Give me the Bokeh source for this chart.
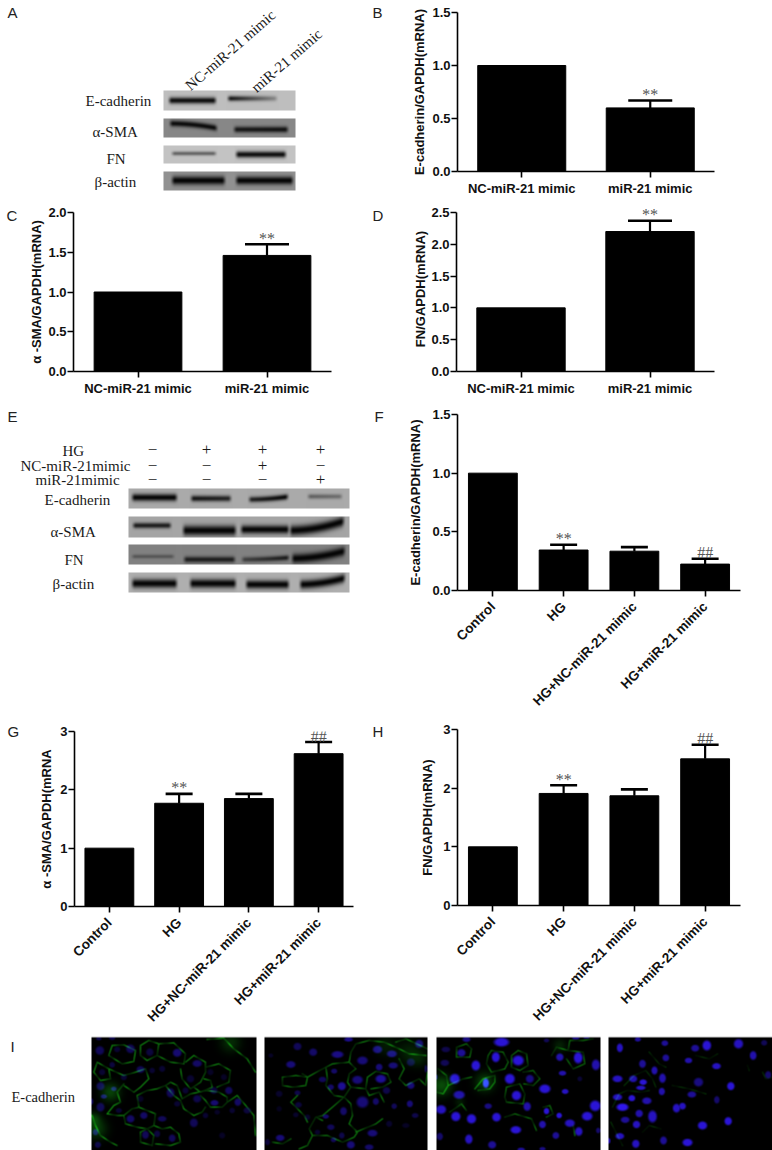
import numpy as np
from bokeh.core.properties import value
from bokeh.embed import file_html
from bokeh.layouts import column, row
from bokeh.models import (ColumnDataSource, FactorRange, FixedTicker, LabelSet, NumeralTickFormatter,
                          Range1d, TeeHead, Whisker)
from bokeh.plotting import figure
from bokeh.resources import INLINE

SERIF = "Liberation Serif"
SANS = "Liberation Sans"

# ---------- chart data ----------
CATS_2 = ["NC-miR-21 mimic", "miR-21 mimic"]
CATS_4 = ["Control", "HG", "HG+NC-miR-21 mimic", "HG+miR-21 mimic"]

B_VALUES = [1.0, 0.60]
B_TOPS = [None, 0.67]
B_MARKS = ["", "**"]
B_TICKS = [0.0, 0.5, 1.0, 1.5]

C_VALUES = [1.0, 1.46]
C_TOPS = [None, 1.60]
C_MARKS = ["", "**"]
C_TICKS = [0.0, 0.5, 1.0, 1.5, 2.0]

D_VALUES = [1.0, 2.20]
D_TOPS = [None, 2.37]
D_MARKS = ["", "**"]
D_TICKS = [0.0, 0.5, 1.0, 1.5, 2.0, 2.5]

F_VALUES = [1.0, 0.345, 0.335, 0.225]
F_TOPS = [None, 0.39, 0.37, 0.27]
F_MARKS = ["", "**", "", "##"]
F_TICKS = [0.0, 0.5, 1.0, 1.5]

G_VALUES = [1.0, 1.77, 1.85, 2.62]
G_TOPS = [None, 1.93, 1.93, 2.82]
G_MARKS = ["", "**", "", "##"]
G_TICKS = [0, 1, 2, 3]

H_VALUES = [1.0, 1.91, 1.87, 2.50]
H_TOPS = [None, 2.05, 1.98, 2.74]
H_MARKS = ["", "**", "", "##"]
H_TICKS = [0, 1, 2, 3]

# ---------- blot strips: top, bottom, background grey, bands (x0, x1, y0, y1, thickness, dark0, dark1) ----------
BLOT_A = [
    (90, 110, 190, [(167, 217, 100, 100, 3.2, .95, .95), (226, 278, 98, 98, 2.6, .95, .25)]),
    (118, 137, 135, [(168, 218, 123, 128, 3.0, .95, .95), (232, 289, 129, 129, 3.0, .85, .9)]),
    (145, 163, 195, [(170, 217, 153, 153, 2.0, .5, .5), (234, 287, 154, 154, 3.2, .95, .95)]),
    (171, 190, 145, [(170, 226, 180, 180, 4.2, 1, 1), (234, 294, 180, 180, 4.0, 1, 1)]),
]
BLOT_E = [
    (488, 508, 170, [(130, 178, 497, 497, 3.6, 1, 1), (189, 232, 498, 498, 3.0, .9, .8), (247, 289, 499, 496, 2.8, .8, 1), (306, 343, 496, 496, 2.4, .45, .35)]),
    (516, 537, 165, [(131, 172, 525, 525, 2.8, .85, .85), (181, 237, 530, 530, 5.0, 1, 1), (239, 290, 529, 529, 4.2, 1, 1), (288, 345, 530, 520, 5.0, 1, 1)]),
    (544, 564, 130, [(130, 175, 556, 556, 2.0, .35, .35), (182, 236, 559, 559, 3.0, .8, .8), (240, 290, 559, 557, 2.6, .5, .85), (290, 346, 558, 550, 4.6, 1, 1)]),
    (572, 592, 175, [(130, 178, 583, 583, 4.4, 1, 1), (188, 237, 583, 583, 4.4, 1, 1), (244, 290, 584, 584, 4.2, 1, 1), (298, 346, 584, 577, 4.4, 1, 1)]),
]

NUC_1 = [(28,45,14,14,.7),(120,40,14,14,.7),(178,50,12,12,.5),(260,52,14,13,.9),(320,84,15,11,.8),(150,102,13,11,.7),(30,152,13,13,.7),(70,160,9,7,.9),(40,183,10,7,.9),(240,172,13,15,.7),(30,215,13,14,.7),(120,250,13,12,.8),(160,240,12,11,.8),(215,250,14,9,.7),(310,262,13,14,.7),(165,298,11,13,.7),(245,308,11,12,.7),(200,295,10,11,.5),(372,202,13,9,.9),(442,200,11,12,.8),(415,165,12,12,.7),(320,190,13,12,.6),(370,165,12,11,.5),(470,225,12,10,.5),(300,130,12,12,.4),(215,100,10,10,.4),(65,88,9,9,.5),(35,110,10,10,.4),(80,42,10,9,.4),(100,125,10,10,.4),(185,105,9,9,.4),(360,110,10,10,.3),(400,125,10,10,.3),(425,225,9,9,.4),(345,240,9,9,.4),(380,230,9,8,.3),(260,205,10,9,.4),(285,165,10,10,.4),(150,190,10,10,.3),(15,290,9,10,.8),(22,328,10,10,.6),(3,198,6,10,.8),(85,225,10,8,.4),(395,300,10,10,.3),(65,8,10,6,.6),(25,10,9,5,.6)]
MEM_1 = [[(150,30),(175,15),(205,25),(200,60),(170,75),(150,60),(150,30)],[(205,25),(250,22),(285,55),(280,85),(240,80),(200,60)],[(285,80),(310,60),(345,80),(345,110),(330,140),(300,160),(275,130),(270,100)],[(345,95),(385,85),(420,105),(415,140),(380,155)],[(340,130),(360,135),(365,155),(330,170),(310,155)],[(300,175),(325,170),(350,165),(385,170),(410,185),(410,200),(395,215),(360,215),(345,195),(330,180)],[(270,195),(250,180),(225,150),(240,140),(260,150),(275,190),(300,175)],[(270,195),(280,220),(310,240),(335,230),(345,215)],[(140,180),(170,165),(200,160),(225,150)],[(140,180),(145,215),(170,225),(195,235),(190,270),(170,280),(140,275),(105,265),(100,240),(125,220),(145,215)],[(170,280),(190,300),(185,330),(150,320),(150,290),(170,280)],[(190,270),(215,280),(240,275),(265,295),(270,320),(240,330),(195,325)],[(100,145),(80,170),(90,200),(70,210),(50,235),(80,240),(100,240)],[(55,100),(100,120),(135,110),(165,100),(175,130),(150,155),(130,170),(100,150)],[(5,240),(15,270),(30,300),(60,320),(80,330)],[(410,200),(440,180),(470,215),(490,240),(495,300)],[(350,12),(400,8),(430,40),(470,70),(495,110)],[(55,60),(65,30),(100,28),(135,45),(130,78),(95,85),(55,60)],[(20,80),(55,100),(60,130),(30,135),(10,110),(20,80)]]
HAZE_1 = [(60,170,28,.3),(20,280,30,.25),(10,250,20,.25),(420,20,30,.2)]

NUC_2 = [(105,33,13,12,.6),(152,50,13,12,.7),(225,57,19,11,.9),(258,12,14,7,.9),(345,42,15,12,.9),(388,55,16,11,.9),(470,25,13,13,.8),(300,75,17,13,.8),(445,80,13,12,.5),(85,87,15,11,.8),(215,107,10,8,.7),(350,95,11,11,.8),(392,90,15,10,.8),(180,132,12,9,.6),(285,133,17,13,.8),(355,130,17,13,1),(205,155,10,9,.7),(238,152,13,13,1),(445,150,12,11,.8),(50,175,11,10,.3),(105,172,10,8,.5),(372,165,12,11,.5),(300,200,19,18,.8),(340,198,10,11,.7),(108,208,11,9,.4),(395,212,9,9,.6),(442,205,10,11,.8),(243,227,11,13,.7),(190,243,10,7,.7),(100,238,9,8,.3),(135,245,9,9,.3),(458,240,11,8,.5),(205,275,12,9,.6),(380,265,10,10,.3),(330,293,16,11,.8),(238,300,9,10,.5),(213,313,9,8,.6),(53,307,14,10,.8),(265,328,13,12,.8),(320,335,14,9,.7),(430,270,12,8,.25),(165,290,9,8,.3),(25,60,8,7,.25),(50,220,9,9,.2),(15,320,8,10,.4),(490,100,5,12,.5)]
MEM_2 = [[(265,50),(280,25),(320,15),(365,20),(410,40),(440,55),(490,60)],[(265,50),(260,80),(280,100),(260,115),(255,140),(265,155),(310,160),(315,125),(340,108),(375,115),(385,140),(360,155),(325,160)],[(120,115),(135,125),(190,95),(210,85),(260,80)],[(190,95),(195,130),(190,150),(215,180),(245,185),(265,155)],[(245,185),(210,215),(180,240),(160,245),(180,255)],[(60,125),(100,120),(135,125),(130,150),(90,155),(60,150),(60,125)],[(245,185),(265,205),(270,240),(260,265),(285,290),(275,305),(240,320),(195,300),(150,300),(140,280),(160,245)],[(310,160),(320,180),(350,170),(365,200)],[(150,300),(135,330),(110,340)],[(30,320),(60,325),(85,310)],[(410,70),(425,100),(410,130),(430,150),(470,130),(490,150),(495,110)],[(105,180),(85,200),(110,225),(125,240),(135,260)],[(280,290),(340,265),(360,250)],[(400,20),(430,10),(495,40)]]
HAZE_2 = [(440,50,35,.15),(470,70,25,.12),(370,30,30,.12)]

NUC_3 = [(195,20,24,14,1),(90,12,13,8,.6),(75,52,13,12,.7),(178,65,13,16,1),(245,75,18,16,1),(28,42,14,9,.35),(25,82,14,10,.4),(118,90,14,16,1),(425,67,14,18,1),(370,65,12,12,.8),(478,88,13,17,.8),(55,130,16,16,1),(220,130,16,16,1),(148,143,10,15,1.2),(280,130,13,13,.6),(378,113,12,8,.8),(325,160,18,14,1),(386,168,11,8,.9),(68,178,18,13,.8),(240,180,15,15,1),(155,212,12,9,.6),(272,213,12,14,.8),(14,222,16,14,.9),(58,243,15,15,1),(105,250,15,15,1),(180,245,14,14,1),(330,227,9,10,1),(368,240,9,9,1),(452,242,17,14,1),(476,211,17,17,1),(400,263,16,12,.9),(318,267,11,12,.8),(238,283,17,12,1),(427,288,12,14,.9),(485,285,7,9,.5),(10,303,10,12,.5),(97,311,12,15,.9),(167,328,13,12,.7),(358,300,11,11,.7),(254,342,12,6,.7),(318,340,10,6,.6),(430,130,8,8,.25),(0,125,4,8,.6),(330,15,9,6,.4),(418,8,12,5,.6),(450,6,10,4,.6)]
MEM_3 = [[(60,35),(90,25),(105,40),(100,65),(60,65),(60,35)],[(155,60),(165,45),(200,50),(215,80),(205,100),(165,110),(150,85),(155,60)],[(225,60),(245,45),(270,55),(275,90),(250,105),(225,95),(225,60)],[(345,60),(360,35),(395,45),(400,15),(440,15),(470,10)],[(395,45),(440,50),(445,85),(410,100),(390,70)],[(115,160),(140,130),(175,120),(175,140),(160,160),(125,165)],[(5,100),(30,120),(35,150),(20,175),(0,170)],[(35,150),(80,130),(105,125)],[(205,185),(210,155),(250,145),(265,175),(260,205),(210,200),(205,185)],[(260,110),(290,105),(310,130),(290,150),(262,145)],[(40,230),(75,205),(90,225)],[(205,245),(235,235),(285,250),(300,285)],[(410,270),(415,300)],[(320,215),(340,210),(350,235),(330,245)]]
HAZE_3 = [(15,150,30,.35),(145,140,28,.3),(70,200,15,.12),(370,30,20,.15)]

NUC_4 = [(52,37,10,14,.9),(106,12,10,7,.7),(187,23,11,9,.7),(190,67,11,11,.7),(278,38,13,11,.7),(313,30,14,16,1),(408,25,15,15,.9),(485,22,10,9,.4),(452,60,11,14,.8),(258,75,12,9,.8),(342,92,14,10,.9),(120,85,11,13,.7),(156,105,10,13,.8),(45,130,16,11,.9),(92,130,13,11,.8),(122,140,12,9,1),(115,157,15,7,.9),(180,128,11,15,.8),(288,140,15,14,.6),(385,152,12,13,1),(497,118,10,12,.5),(178,168,10,12,.8),(268,177,14,10,.7),(45,185,15,10,.9),(88,188,11,10,1),(133,196,15,11,.8),(343,193,9,12,.5),(60,215,19,12,1.1),(222,218,12,14,.9),(240,212,11,11,.9),(110,234,12,12,.8),(150,243,14,19,.9),(377,257,12,13,1),(68,253,14,10,.7),(102,267,12,12,.9),(300,270,15,13,1),(52,302,14,10,.9),(100,325,12,13,.9),(183,315,11,13,.7),(255,321,16,12,1),(20,316,4,9,.8)]
MEM_4 = [[(65,150),(95,120),(130,105),(150,130),(160,155)],[(30,215),(50,175),(75,165),(115,170),(140,165)],[(25,260),(40,290),(60,330)],[(120,290),(140,270),(175,280)],[(140,50),(170,85),(190,95)],[(280,60),(320,70),(345,55)],[(435,90),(440,105)],[(480,110),(490,130),(510,125)],[(210,150),(260,160),(310,175)]]
HAZE_4 = []

MICRO = [
    (91, 90, 165, NUC_1, MEM_1, HAZE_1, .6, .55),
    (264, 262, 163, NUC_2, MEM_2, HAZE_2, .55, .65),
    (436, 436, 164, NUC_3, MEM_3, HAZE_3, .5, .95),
    (608, 602, 164, NUC_4, MEM_4, HAZE_4, .22, .95),
]


def rgba(r, g, b):
    a = np.full(r.shape, 255, dtype=np.uint32)
    out = (np.clip(r, 0, 255).astype(np.uint32) | (np.clip(g, 0, 255).astype(np.uint32) << 8)
           | (np.clip(b, 0, 255).astype(np.uint32) << 16) | (a << 24))
    return np.flipud(out)


def strip_image(x0, x1, top, bottom, bg, bands):
    xs, ys = np.meshgrid(np.arange(x0, x1) + .5, np.arange(top, bottom) + .5)
    dark = np.zeros(xs.shape)
    for bx0, bx1, y0, y1, t, d0, d1 in bands:
        f = np.clip((xs - bx0) / (bx1 - bx0), 0, 1)
        yc = y0 + (y1 - y0) * f ** 2
        ramp = np.clip((xs - bx0) / 4, 0, 1) * np.clip((bx1 - xs) / 4, 0, 1)
        dark = np.maximum(dark, (d0 + (d1 - d0) * f) * ramp * np.exp(-((ys - yc) / t) ** 2))
    grey = bg * (1 - dark) + 5 * dark
    return rgba(grey, grey, grey)


def micro_image(w, origin_x, panel_x, nuclei, membranes, haze, green_gain, blue_gain):
    h = 114
    xs, ys = np.meshgrid(np.arange(panel_x, panel_x + w) + .5, np.arange(1036, 1036 + h) + .5)
    blue = np.zeros(xs.shape)
    for x, y, rx, ry, b in nuclei:
        cx, cy = origin_x + x / 3, 1035 + y / 3
        r = np.hypot((xs - cx) / (rx / 3), (ys - cy) / (ry / 3))
        blue = np.maximum(blue, b * np.clip((1.15 - r) / .5, 0, 1))
    blue *= blue_gain
    green = np.zeros(xs.shape)
    for path in membranes:
        for (ax, ay), (bx, by) in zip(path[:-1], path[1:]):
            ax, bx = origin_x + ax / 3, origin_x + bx / 3
            ay, by = 1035 + ay / 3, 1035 + by / 3
            dx, dy = bx - ax, by - ay
            t = np.clip(((xs - ax) * dx + (ys - ay) * dy) / max(dx * dx + dy * dy, 1e-6), 0, 1)
            dist = np.hypot(xs - (ax + t * dx), ys - (ay + t * dy))
            green = np.maximum(green, np.exp(-(dist / .75) ** 2))
    # membranes in the photo vary in strength along their length
    green *= green_gain * (.68 + .32 * np.sin(xs * .43 + ys * .31))
    for x, y, r, v in haze:
        green += v * np.exp(-(np.hypot(xs - origin_x - x / 3, ys - 1035 - y / 3) / (r / 3)) ** 2)
    red = 45 * blue + 25 * green
    gg = 22 * blue + 215 * green
    bb = 225 * blue + 25 * green
    red[0, :] = gg[0, :] = bb[0, :] = 200
    return rgba(red, gg, bb)


def bare(x0, x1, top, bottom):
    """An axis-free figure whose x is page x and whose y is measured up from its bottom edge."""
    p = figure(width=x1 - x0, height=bottom - top, x_range=Range1d(x0, x1), y_range=Range1d(0, bottom - top),
               output_backend="svg", toolbar_location=None, min_border=0, frame_align=False)
    p.axis.visible = False
    p.grid.visible = False
    p.outline_line_color = None
    return p


def words(p, bottom, items, size, font=SERIF, angle=0, align="left", color="#1a1a1a"):
    src = ColumnDataSource(dict(x=[i[0] for i in items], y=[bottom - i[1] for i in items], t=[i[2] for i in items]))
    p.text("x", "y", text="t", source=src, text_font=value(font), text_font_size=f"{size}px", text_color=color,
           text_align=align, text_baseline="middle", angle=angle)


def letter(p, bottom, txt, px, py):
    words(p, bottom, [(px, py, txt)], 15, font=SANS, color="#222222")


def chart(cats, vals, tops, marks, ticks, ymax, ylabel, fig, frame, bar_w, cap, fmt, standoff, rotate=False, head=0):
    fx0, fx1, fy0, fy1 = fig
    left, right, top, bottom = frame
    # head: room above the top tick so a mark over a tall bar is not clipped
    p = figure(width=fx1 - fx0, height=fy1 - fy0, x_range=FactorRange(factors=cats, factor_padding=0, range_padding=0),
               y_range=Range1d(0, ymax * (1 + head / (bottom - top))), output_backend="svg", toolbar_location=None,
               min_border_left=left - fx0, min_border_right=fx1 - right,
               min_border_top=top - head - fy0, min_border_bottom=fy1 - bottom, frame_align=False)
    p.grid.visible = False
    p.outline_line_color = None
    p.vbar(x=cats, top=vals, width=bar_w, bottom=0, fill_color="black", line_color="black", line_width=1)

    src = ColumnDataSource(dict(x=[c for c, t in zip(cats, tops) if t is not None],
                                base=[v for v, t in zip(vals, tops) if t is not None],
                                top=[t for t in tops if t is not None]))
    p.add_layout(Whisker(source=src, base="x", upper="top", lower="base", dimension="height",
                         line_color="black", line_width=2.2, lower_head=None,
                         upper_head=TeeHead(size=cap, line_color="black", line_width=2.6)))
    msrc = ColumnDataSource(dict(x=[c for c, m in zip(cats, marks) if m],
                                 y=[t for t, m in zip(tops, marks) if m],
                                 t=[m for m in marks if m]))
    p.add_layout(LabelSet(x="x", y="y", text="t", source=msrc, text_font=SERIF, text_font_size="16px",
                          text_color="#555555", text_align="center", text_baseline="middle", y_offset=6))

    yax = p.yaxis[0]
    yax.bounds = (0, ymax)
    yax.ticker = FixedTicker(ticks=ticks)
    yax.formatter = NumeralTickFormatter(format=fmt)
    yax.axis_label = ylabel
    yax.axis_label_text_font = SANS
    yax.axis_label_text_font_style = "bold"
    yax.axis_label_text_font_size = "13px"
    yax.axis_label_text_color = "#111111"
    yax.axis_label_standoff = standoff
    xax = p.xaxis[0]
    for ax in (xax, yax):
        ax.axis_line_color = "black"
        ax.axis_line_width = 1.6
        ax.major_tick_line_color = "black"
        ax.major_tick_line_width = 1.6
        ax.major_tick_in = 0
        ax.major_tick_out = 6
        ax.minor_tick_line_color = None
        ax.major_label_text_font = SANS
        ax.major_label_text_font_style = "bold"
        ax.major_label_text_font_size = "13px"
        ax.major_label_text_color = "#111111"
    xax.major_label_standoff = 3
    if rotate:
        xax.major_label_orientation = np.pi / 4
        xax.major_label_standoff = 8
        xax.major_label_text_font_size = "13.5px"
    yax.major_label_standoff = 1
    return p


# ---------- row 1 ----------
T1, B1 = 0, 198
pA = bare(0, 386, T1, B1)
for top, bottom, bg, bands in BLOT_A:
    pA.image_rgba(image=[strip_image(163, 295, top, bottom, bg, bands)], x=163, y=B1 - bottom, dw=132, dh=bottom - top)
words(pA, B1, [(85, 100, "E-cadherin"), (92, 131, "α-SMA"), (106, 158, "FN"), (94, 181, "β-actin")], 15)
words(pA, B1, [(187, 87, "NC-miR-21 mimic"), (253, 89, "miR-21 mimic")], 15, angle=np.radians(41))
letter(pA, B1, "A", 7, 12)
letter(pA, B1, "B", 372, 12)
pB = chart(CATS_2, B_VALUES, B_TOPS, B_MARKS, B_TICKS, 1.5, "E-cadherin/GAPDH(mRNA)",
           (386, 772, T1, B1), (457, 714, 12, 173), .685, 44, "0.0", 2)

# ---------- row 2 ----------
T2, B2 = 198, 398
pCl = bare(0, 22, T2, B2)
letter(pCl, B2, "C", 6, 215)
pC = chart(CATS_2, C_VALUES, C_TOPS, C_MARKS, C_TICKS, 2.0, "α -SMA/GAPDH(mRNA)",
           (22, 368, T2, B2), (73, 331, 212, 373), .68, 44, "0.0", 1)
pDl = bare(368, 386, T2, B2)
letter(pDl, B2, "D", 372, 215)
pD = chart(CATS_2, D_VALUES, D_TOPS, D_MARKS, D_TICKS, 2.5, "FN/GAPDH(mRNA)",
           (386, 772, T2, B2), (456, 714, 212, 373), .685, 44, "0.0", 0, head=6)

# ---------- row 3 ----------
T3, B3 = 398, 722
pE = bare(0, 386, T3, B3)
for top, bottom, bg, bands in BLOT_E:
    pE.image_rgba(image=[strip_image(128, 349, top, bottom, bg, bands)], x=128, y=B3 - bottom, dw=221, dh=bottom - top)
words(pE, B3, [(44, 499, "E-cadherin"), (50, 531, "α-SMA"), (64, 559, "FN"), (52, 583, "β-actin"),
               (62, 450, "HG"), (20, 465, "NC-miR-21mimic"), (35, 479, "miR-21mimic")], 15)
SIGN_ROWS = [(449, "−+++"), (465, "−−+−"), (479, "−−−+")]
SIGN_X = [152, 206, 262, 320]
words(pE, B3, [(x, y, s) for y, signs in SIGN_ROWS for x, s in zip(SIGN_X, signs)], 17, align="center")
letter(pE, B3, "E", 7, 416)
letter(pE, B3, "F", 374, 416)
pF = chart(CATS_4, F_VALUES, F_TOPS, F_MARKS, F_TICKS, 1.5, "E-cadherin/GAPDH(mRNA)",
           (386, 772, T3, B3), (457, 740, 414, 590), .69, 27, "0.0", 6, rotate=True)

# ---------- row 4 ----------
T4, B4 = 722, 1035
pGl = bare(0, 22, T4, B4)
letter(pGl, B4, "G", 7, 731)
pG = chart(CATS_4, G_VALUES, G_TOPS, G_MARKS, G_TICKS, 3, "α -SMA/GAPDH(mRNA",
           (22, 368, T4, B4), (74, 353, 731, 906), .7, 27, "0", 3, rotate=True)
pHl = bare(368, 386, T4, B4)
letter(pHl, B4, "H", 372, 731)
pH = chart(CATS_4, H_VALUES, H_TOPS, H_MARKS, H_TICKS, 3, "FN/GAPDH(mRNA)",
           (386, 772, T4, B4), (457, 740, 729, 905), .69, 27, "0", 5, rotate=True)

# ---------- row 5 ----------
T5, B5 = 1035, 1150
pI = bare(0, 772, T5, B5)
for panel_x, origin_x, w, nuc, mem, haze, gain, bgain in MICRO:
    pI.image_rgba(image=[micro_image(w, origin_x, panel_x, nuc, mem, haze, gain, bgain)], x=panel_x, y=0, dw=w, dh=114)
words(pI, B5, [(11, 1096, "E-cadherin")], 14.5)
words(pI, B5, [(10, 1046, "I")], 15, font=SANS)

layout = column(row(pA, pB, spacing=0), row(pCl, pC, pDl, pD, spacing=0), row(pE, pF, spacing=0),
                row(pGl, pG, pHl, pH, spacing=0), pI, spacing=0)
open("out.html", "w").write(file_html(layout, INLINE))
